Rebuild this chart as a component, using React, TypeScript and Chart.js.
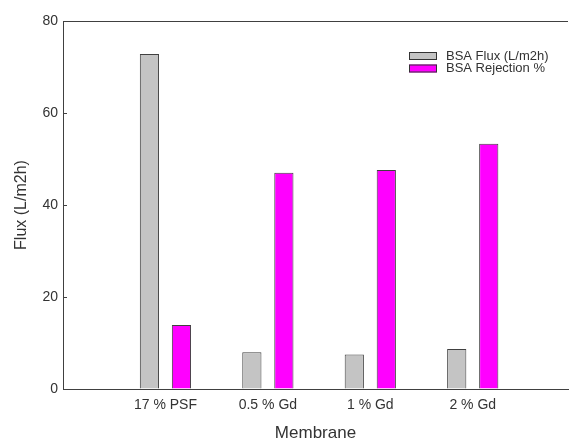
import React, { useEffect, useRef } from "react";
import { Chart, registerables } from "chart.js";

Chart.register(...registerables);

const categories = ["17 % PSF", "0.5 % Gd", "1 % Gd", "2 % Gd"];
const categoryPositions = [1, 2, 3, 4];
const fluxValues = [72.8, 8.0, 7.5, 8.7];
const rejectionValues = [13.9, 47.0, 47.6, 53.3];
const seriesLabels = ["BSA Flux (L/m2h)", "BSA Rejection %"];
const yTickStep = 20;
const yMax = 80;

const FONT = "'Liberation Sans', Arial, sans-serif";
const TEXT = "#333333";
const AXIS = "#404040";

const framePlugin = {
  id: "frame",
  afterDraw(chart: any) {
    const { ctx, chartArea } = chart;
    const y = chart.scales.y;
    ctx.save();
    ctx.strokeStyle = AXIS;
    ctx.lineWidth = 1;
    // top border
    ctx.beginPath();
    ctx.moveTo(chartArea.left, Math.round(chartArea.top) + 0.5);
    ctx.lineTo(chartArea.right, Math.round(chartArea.top) + 0.5);
    ctx.stroke();
    // inward y ticks
    y.ticks.forEach((t: any) => {
      const py = Math.round(y.getPixelForValue(t.value)) + 0.5;
      ctx.beginPath();
      ctx.moveTo(chartArea.left, py);
      ctx.lineTo(chartArea.left + 4, py);
      ctx.stroke();
    });
    // legend
    const ds = chart.data.datasets;
    ctx.font = `13px ${FONT}`;
    ctx.textBaseline = "middle";
    ctx.textAlign = "left";
    ds.forEach((d: any, i: number) => {
      const bx = 409;
      const by = 52 + i * 12.5;
      ctx.fillStyle = d.backgroundColor;
      ctx.fillRect(bx, by, 28, 8);
      ctx.strokeStyle = "#333333";
      ctx.strokeRect(bx + 0.5, by + 0.5, 27, 7);
      ctx.fillStyle = TEXT;
      ctx.fillText(d.label, 446, by + 4);
    });
    ctx.restore();
  },
};

export default function App() {
  const ref = useRef<HTMLCanvasElement>(null);
  useEffect(() => {
    if (!ref.current) return;
    const chart = new Chart(ref.current, {
      type: "bar",
      data: {
        datasets: [
          {
            label: seriesLabels[0],
            data: categoryPositions.map((x, i) => ({ x, y: fluxValues[i] })),
            backgroundColor: "#c4c4c4",
            borderColor: "#404040",
            borderWidth: 1,
            categoryPercentage: 0.625,
            barPercentage: 0.6,
          },
          {
            label: seriesLabels[1],
            data: categoryPositions.map((x, i) => ({ x, y: rejectionValues[i] })),
            backgroundColor: "#ff00ff",
            borderColor: "#404040",
            borderWidth: 1,
            categoryPercentage: 0.625,
            barPercentage: 0.6,
          },
        ] as any,
      },
      options: {
        animation: false,
        responsive: false,
        layout: { padding: { top: 21, right: 2, left: 0, bottom: 0 } },
        plugins: { legend: { display: false }, tooltip: { enabled: false } },
        scales: {
          x: {
            type: "linear",
            offset: false,
            min: 0,
            max: 4.93,
            afterFit: (s: any) => {
              s.height = 53;
            },
            grid: { display: false },
            border: { display: true, color: AXIS, width: 1 },
            ticks: {
              stepSize: 1,
              includeBounds: false,
              autoSkip: false,
              maxRotation: 0,
              padding: 0,
              color: TEXT,
              font: { family: FONT, size: 14 },
              callback: (v: any) => categories[Number(v) - 1] ?? "",
            },
            title: {
              display: true,
              text: "Membrane",
              color: TEXT,
              font: { family: FONT, size: 17, lineHeight: 1 },
              padding: { top: 0, bottom: 0 },
            },
          },
          y: {
            min: 0,
            max: yMax,
            afterFit: (s: any) => {
              s.width = 63;
            },
            grid: { display: true, drawOnChartArea: false, drawTicks: false },
            border: { display: true, color: AXIS, width: 1 },
            ticks: {
              stepSize: yTickStep,
              padding: 5,
              color: TEXT,
              font: { family: FONT, size: 14 },
            },
            title: {
              display: true,
              text: "Flux (L/m2h)",
              color: TEXT,
              font: { family: FONT, size: 16, lineHeight: 1 },
              padding: { top: 14, bottom: 0 },
            },
          },
        },
      } as any,
      plugins: [framePlugin],
    });
    return () => chart.destroy();
  }, []);
  return (
    <div style={{ position: "fixed", left: 0, top: 0, width: 570, height: 442, background: "#fff" }}>
      <canvas ref={ref} width={570} height={442} style={{ display: "block" }} />
    </div>
  );
}
